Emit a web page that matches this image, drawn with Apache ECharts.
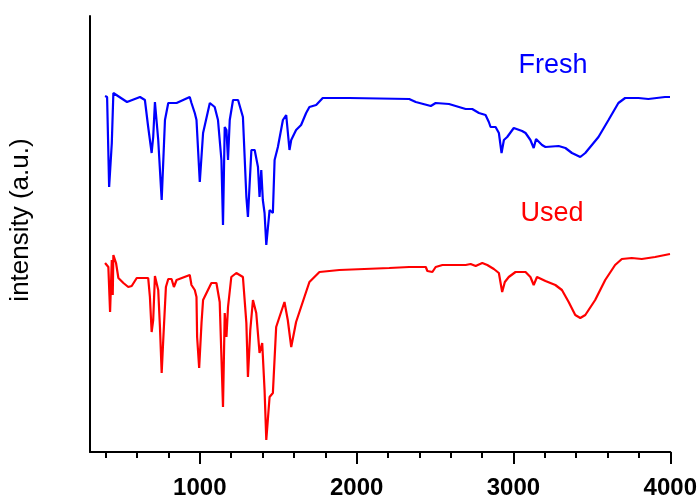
<!DOCTYPE html>
<html>
<head>
<meta charset="utf-8">
<script src="https://cdn.jsdelivr.net/npm/echarts@6/dist/echarts.min.js"></script>
<style>html,body{margin:0;padding:0;background:#fff;}#c{width:700px;height:501px;}</style>
</head>
<body>
<div id="c"></div>
<script>
// Wavenumber (cm-1) and relative intensity (arbitrary units)
var freshWn = [396,409,422,439,449,536,619,650,671,693,703,714,725,735,757,778,799,852,936,947,968,979,1000,1021,1064,1095,1116,1138,1148,1159,1170,1180,1191,1212,1244,1275,1297,1307,1329,1350,1371,1381,1392,1402,1413,1424,1445,1466,1477,1498,1530,1551,1572,1583,1614,1646,1678,1699,1742,1784,1953,2335,2377,2473,2504,2589,2695,2737,2780,2822,2843,2854,2886,2907,2924,2939,2960,3002,3055,3077,3108,3129,3144,3182,3204,3288,3331,3373,3426,3458,3542,3606,3669,3712,3797,3860,3966,3998];
var freshVal = [356,355,265,309,359,350,355,352,325,299,315,350,349,312,252,332,349,349,355,349,339,332,270,319,349,345,332,292,227,325,322,292,332,352,352,335,255,235,302,302,285,255,282,252,239,207,242,239,292,305,332,337,302,312,322,327,339,345,347,354,354,353,350,346,349,348,343,343,339,337,330,325,325,319,299,312,315,324,321,319,312,304,313,307,305,306,304,299,295,299,315,332,349,354,354,353,355,355];

var usedWn = [396,417,428,439,445,449,466,481,513,544,566,598,671,682,693,703,714,725,735,746,757,767,784,799,820,835,852,936,947,968,979,983,996,1011,1021,1074,1106,1127,1138,1148,1159,1170,1180,1201,1233,1275,1297,1307,1322,1339,1360,1381,1398,1413,1424,1445,1466,1487,1508,1540,1561,1583,1614,1667,1699,1763,1890,2208,2335,2441,2451,2483,2504,2547,2695,2727,2759,2801,2833,2875,2907,2918,2928,2945,2970,3013,3077,3108,3129,3150,3204,3267,3309,3352,3394,3426,3458,3521,3585,3648,3691,3754,3818,3903,3998];
var usedVal = [189,185,140,192,157,197,189,174,169,165,166,174,174,155,120,132,176,175,162,125,79,112,165,173,173,165,172,177,167,162,155,115,84,129,152,169,169,150,95,45,139,115,145,175,179,175,129,75,122,152,139,99,109,62,12,55,59,125,135,150,132,105,130,155,170,180,182,184,185,185,181,180,185,187,187,188,186,189,187,183,179,169,160,170,175,180,180,175,167,175,171,167,162,150,137,134,137,152,172,187,193,194,193,195,198];

var majorTicks = [1000,2000,3000,4000];
var minorTicks = [400,600,800,1000,1200,1400,1600,1800,2000,2200,2400,2600,2800,3000,3200,3400,3600,3800,4000];
var yTitle = 'intensity (a.u.)';
var seriesNames = ['Fresh','Used'];

function pairs(xs, ys){ return xs.map(function(x,i){ return [x, ys[i]]; }); }

var chart = echarts.init(document.getElementById('c'), null, {renderer:'canvas'});
chart.setOption({
  animation: false,
  backgroundColor: '#fff',
  grid: {left: 90, right: 28, top: 16, bottom: 49, containLabel: false},
  xAxis: [{
    type: 'value', min: 300, max: 4000,
    axisLine: {show: true, onZero: false, lineStyle: {color: '#000', width: 2}},
    axisTick: {show: true, customValues: majorTicks, length: 12, lineStyle: {color: '#000', width: 2}},
    axisLabel: {show: true, customValues: majorTicks, margin: 24, color: '#000', fontSize: 24, fontWeight: 'bold', fontFamily: 'Liberation Sans, Arial, sans-serif', formatter: function(v){ return String(v); }},
    splitLine: {show: false}
  }, {
    type: 'value', min: 300, max: 4000, position: 'bottom',
    axisLine: {show: false},
    axisTick: {show: true, customValues: minorTicks, length: 6, lineStyle: {color: '#000', width: 2}},
    axisLabel: {show: false},
    splitLine: {show: false}
  }],
  yAxis: {
    type: 'value', min: 0, max: 436,
    axisLine: {show: true, onZero: false, lineStyle: {color: '#000', width: 2}},
    axisTick: {show: false},
    axisLabel: {show: false},
    splitLine: {show: false}
  },
  graphic: [
    {type: 'text', x: 21, y: 220, rotation: Math.PI/2, style: {text: yTitle, fill: '#000', font: '26px "Liberation Sans", Arial, sans-serif', textAlign: 'center', textVerticalAlign: 'middle'}},
    {type: 'text', x: 553, y: 66, style: {text: seriesNames[0], fill: '#0000FF', font: '27px "Liberation Sans", Arial, sans-serif', textAlign: 'center', textVerticalAlign: 'middle'}},
    {type: 'text', x: 552, y: 214, style: {text: seriesNames[1], fill: '#FF0000', font: '27px "Liberation Sans", Arial, sans-serif', textAlign: 'center', textVerticalAlign: 'middle'}}
  ],
  series: [
    {name: seriesNames[0], type: 'line', xAxisIndex: 0, data: pairs(freshWn, freshVal), showSymbol: false, symbol: 'none', lineStyle: {color: '#0000FF', width: 2.2}, itemStyle: {color: '#0000FF'}},
    {name: seriesNames[1], type: 'line', xAxisIndex: 0, data: pairs(usedWn, usedVal), showSymbol: false, symbol: 'none', lineStyle: {color: '#FF0000', width: 2.2}, itemStyle: {color: '#FF0000'}}
  ]
});
</script>
</body>
</html>
